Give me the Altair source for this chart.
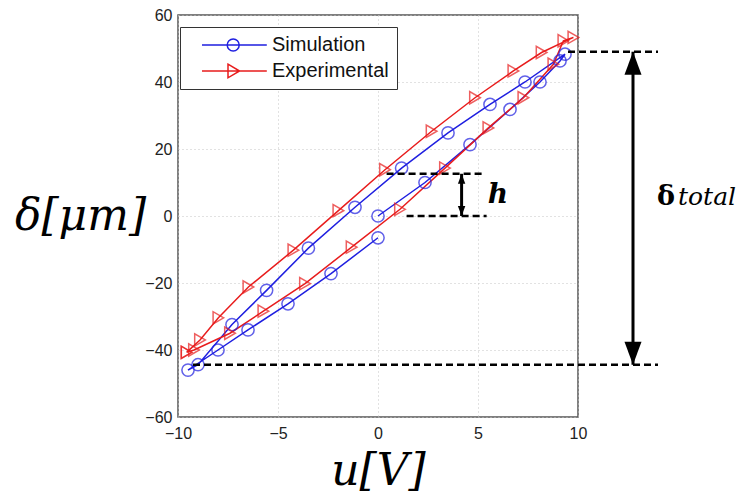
import altair as alt
import pandas as pd

# ---- data ----
sim_u = [0, 2.35, 4.6, 6.6, 8.1, 9.1, 9.35, 7.35, 5.6, 3.5, 1.18, -1.15, -3.48,
         -5.57, -7.3, -9.0, -9.5, -8.0, -6.5, -4.5, -2.35, 0]
sim_d = [0, 10, 21.3, 31.8, 40, 46.3, 48.3, 40, 33.3, 24.8, 14.3, 2.6, -9.6,
         -22.2, -32.4, -44.4, -46, -40, -34, -26.2, -17.2, -6.5]

exp_u = [-9.57, -9.2, -7.4, -5.73, -3.65, -1.32, 1.1, 3.35, 5.52, 7.27, 8.77,
         9.27, 9.77, 8.18, 6.77, 4.85, 2.68, 0.35, -1.98, -4.23, -6.48, -7.98,
         -8.9, -9.57]
exp_d = [-40.7, -40, -35, -28.4, -20.2, -9.3, 2, 14.3, 26.3, 35.3, 45.3,
         52.3, 53.3, 48.8, 43.3, 35.3, 25.3, 13.8, 1.6, -10.2, -21.2, -30.4,
         -37, -40.7]

series_names = ["Simulation", "Experimental"]
series_colors = ["#1f1fe0", "#e81c1c"]

x_ticks = [-10, -5, 0, 5, 10]
y_ticks = [-60, -40, -20, 0, 20, 40, 60]

# annotations
dash_x_start = [9.5, -9.25, 0.43, 1.43]
dash_x_end = [14.0, 14.0, 5.35, 5.43]
dash_y = [49, -44.4, 12.6, 0]

arrow_x = [12.75, 4.18]
arrow_top = [49, 12.6]
arrow_bottom = [-44.4, 0]
arrow_head_size = [2116, 400]

# ---- tables ----
rows = []
for i, (u, d) in enumerate(zip(sim_u, sim_d)):
    rows.append({"u": u, "d": d, "series": "Simulation", "ord": i})
for i, (u, d) in enumerate(zip(exp_u, exp_d)):
    rows.append({"u": u, "d": d, "series": "Experimental", "ord": i})
df = pd.DataFrame(rows)

dash_df = pd.DataFrame({"x": dash_x_start, "x2": dash_x_end, "y": dash_y})
arrow_df = pd.DataFrame({"x": arrow_x, "top": arrow_top, "bottom": arrow_bottom,
                         "hs": arrow_head_size})

xs = alt.Scale(domain=[-10, 10], nice=False, zero=False)
ys = alt.Scale(domain=[-60, 60], nice=False, zero=False)

X = alt.X("u:Q", scale=xs, axis=alt.Axis(
    values=x_ticks, title="u[V]", titleX=200, titleY=67,
    titleBaseline="alphabetic", titleAlign="center", labelFlush=False))
Y = alt.Y("d:Q", scale=ys, axis=alt.Axis(
    values=y_ticks, title="δ[μm]", titleAngle=0, titleX=-98, titleY=201,
    titleAlign="center", titleBaseline="middle", labelFlush=False))

color_nolegend = alt.Color("series:N", scale=alt.Scale(domain=series_names, range=series_colors), legend=None)

lines = alt.Chart(df).mark_line(strokeWidth=1.5).encode(
    x=X, y=Y, color=color_nolegend, order="ord:Q", detail="series:N")

points = alt.Chart(df).mark_point(filled=False, strokeWidth=1.5, size=150).encode(
    x="u:Q", y="d:Q", color=color_nolegend,
    shape=alt.Shape("series:N", scale=alt.Scale(domain=series_names, range=["circle", "triangle-right"]), legend=None))

leg_circle = ("M0.5,0L8.6,0M3.65,0A0.75,0.75,0,1,1,5.15,0A0.75,0.75,0,1,1,3.65,0")
leg_tri = ("M0.5,0L8.6,0M3.75,-0.85L5.2,0L3.75,0.85Z")

legend_layer = alt.Chart(df).mark_point(filled=False, strokeWidth=1.5, size=256, opacity=0).encode(
    x="u:Q", y="d:Q",
    color=alt.Color("series:N", scale=alt.Scale(domain=series_names, range=series_colors),
                    title=None,
                    legend=alt.Legend(orient="none", legendX=2, legendY=12, title=None,
                                      symbolOpacity=1, symbolSize=256, labelOffset=64, rowPadding=6,
                                      padding=8, strokeColor="#333", fillColor="white",
                                      labelFontSize=20, labelFont="Liberation Sans",
                                      labelColor="#111", symbolStrokeWidth=1.5)),
    shape=alt.Shape("series:N", scale=alt.Scale(domain=series_names, range=[leg_circle, leg_tri]),
                    title=None, legend=alt.Legend(orient="none", legendX=2, legendY=12, title=None)))

dashes = alt.Chart(dash_df).mark_rule(strokeDash=[7, 4], strokeWidth=2.5, color="black", clip=False).encode(
    x=alt.X("x:Q", scale=xs), x2="x2:Q", y=alt.Y("y:Q", scale=ys))

shafts = alt.Chart(arrow_df).mark_rule(strokeWidth=3, color="black", clip=False).encode(
    x=alt.X("x:Q", scale=xs), y=alt.Y("top:Q", scale=ys), y2="bottom:Q")

head_up = alt.Chart(arrow_df).mark_point(filled=True, color="black", opacity=1, clip=False,
                                         shape="M0,0L-0.37,1L0.37,1Z").encode(
    x=alt.X("x:Q", scale=xs), y=alt.Y("top:Q", scale=ys),
    size=alt.Size("hs:Q", scale=None, legend=None))
head_dn = alt.Chart(arrow_df).mark_point(filled=True, color="black", opacity=1, clip=False,
                                         shape="M0,0L-0.37,-1L0.37,-1Z").encode(
    x=alt.X("x:Q", scale=xs), y=alt.Y("bottom:Q", scale=ys),
    size=alt.Size("hs:Q", scale=None, legend=None))

h_df = pd.DataFrame({"x": [6.0], "y": [6.3], "t": ["h"]})
h_text = alt.Chart(h_df).mark_text(font="DejaVu Serif", fontSize=28, fontWeight="bold",
                                   fontStyle="italic", color="black", clip=False).encode(
    x=alt.X("x:Q", scale=xs), y=alt.Y("y:Q", scale=ys), text="t:N")

tot_x = [13.95, 15.0]
tot_y = [5.7, 5.7]
tot_t = ["δ", "total"]
tot_df = pd.DataFrame({"x": tot_x, "y": tot_y, "t": tot_t})
tot1 = alt.Chart(tot_df.iloc[[0]]).mark_text(font="DejaVu Serif", fontSize=27, fontWeight="bold",
                                             align="left", color="black", clip=False).encode(
    x=alt.X("x:Q", scale=xs), y=alt.Y("y:Q", scale=ys), text="t:N")
tot2 = alt.Chart(tot_df.iloc[[1]]).mark_text(font="DejaVu Serif", fontSize=25, fontStyle="italic",
                                             align="left", color="black", clip=False).encode(
    x=alt.X("x:Q", scale=xs), y=alt.Y("y:Q", scale=ys), text="t:N")

chart = alt.layer(lines, points, legend_layer, dashes, shafts, head_up, head_dn,
                  h_text, tot1, tot2).resolve_scale(
    color="independent", shape="independent", size="independent"
).properties(
    width=400, height=402,
    autosize=alt.AutoSizeParams(type="none"),
    padding={"left": 170, "top": 7, "right": 162, "bottom": 79},
).configure_view(
    stroke="#555", strokeWidth=1.5
).configure_axis(
    grid=True, gridColor="#c4c4c4", gridDash=[1, 3], gridWidth=1,
    domain=False, ticks=False,
    labelFont="Liberation Sans", labelFontSize=16, labelColor="#222",
    titleFont="DejaVu Serif", titleFontSize=44, titleFontStyle="italic",
    titleFontWeight="normal", titleColor="black"
).configure_axisY(labelPadding=6).configure_axisX(labelPadding=8)

chart.save("out.html", embed_options={"renderer": "svg", "actions": False})
